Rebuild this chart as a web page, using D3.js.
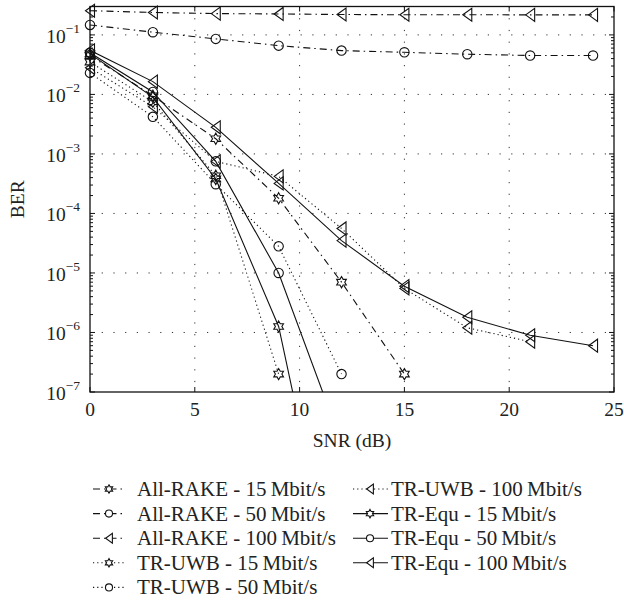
<!DOCTYPE html>
<html>
<head>
<meta charset="utf-8">
<script src="https://cdn.jsdelivr.net/npm/d3@7"></script>
<style>
  body { margin: 0; background: #fff; }
  svg { display: block; }
  text { font-family: "Liberation Serif", "Times New Roman", serif; fill: #222; }
</style>
</head>
<body>
<svg id="chart" width="624" height="611"></svg>
<script>
// SNR sample points (dB)
const snr = [0, 3, 6, 9, 12, 15, 18, 21, 24];

// Bit error rates per receiver / data rate
const rake15  = [0.045, 0.0095, 1.8e-3, 1.8e-4, 7e-6, 2e-7];
const rake50  = [0.147, 0.111, 0.0857, 0.066, 0.0545, 0.051, 0.0474, 0.045, 0.045];
const rake100 = [0.255, 0.238, 0.228, 0.225, 0.22, 0.218, 0.218, 0.217, 0.217];
const uwb15   = [0.035, 0.0075, 4.3e-4, 2e-7];
const uwb50   = [0.023, 0.0042, 3.1e-4, 2.8e-5, 2e-7];
const uwb100  = [0.028, 0.0062, 7.5e-4, 4.2e-4, 5.6e-5, 5.5e-6, 1.2e-6, 7e-7];
const equ15   = [0.048, 0.009, 3.8e-4, 1.26e-6, 1.5e-11];
const equ50   = [0.05, 0.011, 7.5e-4, 1e-5, 1.4e-8];
const equ100  = [0.055, 0.0164, 2.8e-3, 3.2e-4, 3.5e-5, 6e-6, 1.8e-6, 9e-7, 6e-7];

const seriesNames = [
  "All-RAKE - 15\u2009Mbit/s", "All-RAKE - 50\u2009Mbit/s", "All-RAKE - 100\u2009Mbit/s",
  "TR-UWB - 15\u2009Mbit/s", "TR-UWB - 50\u2009Mbit/s", "TR-UWB - 100\u2009Mbit/s",
  "TR-Equ - 15\u2009Mbit/s", "TR-Equ - 50\u2009Mbit/s", "TR-Equ - 100\u2009Mbit/s"
];
const seriesValues = [rake15, rake50, rake100, uwb15, uwb50, uwb100, equ15, equ50, equ100];
const seriesStyle = ["dashdot", "dashdot", "dashdot", "dot", "dot", "dot", "solid", "solid", "solid"];
const seriesMarker = ["hex", "circle", "tri", "hex", "circle", "tri", "hex", "circle", "tri"];

const xTicks = [0, 5, 10, 15, 20, 25];
const yExponents = [-7, -6, -5, -4, -3, -2, -1];

const svg = d3.select("#chart");
const pLeft = 90, pRight = 614, pTop = 6.5, pBottom = 392;

const x = d3.scaleLinear().domain([0, 25]).range([pLeft, pRight]);
const y = d3.scaleLog().domain([1e-7, 0.3]).range([pBottom, pTop]);

const dashes = { solid: null, dot: "1.2,3", dashdot: "7,4,1.5,4" };

// grid
const grid = svg.append("g").attr("stroke", "#333").attr("stroke-width", 1)
  .attr("stroke-dasharray", "1.2,10.5");
yExponents.filter(e => e > -7).forEach(e => {
  grid.append("line").attr("x1", pLeft).attr("x2", pRight)
    .attr("y1", y(Math.pow(10, e))).attr("y2", y(Math.pow(10, e)));
});
xTicks.filter(t => t > 0 && t < 25).forEach(t => {
  grid.append("line").attr("x1", x(t)).attr("x2", x(t)).attr("y1", pTop).attr("y2", pBottom);
});

// frame
svg.append("rect").attr("x", pLeft).attr("y", pTop)
  .attr("width", pRight - pLeft).attr("height", pBottom - pTop)
  .attr("fill", "none").attr("stroke", "#111").attr("stroke-width", 1.3);

// ticks (inward, both sides)
const tk = svg.append("g").attr("stroke", "#111").attr("stroke-width", 1);
xTicks.forEach(t => {
  tk.append("line").attr("x1", x(t)).attr("x2", x(t)).attr("y1", pBottom).attr("y2", pBottom - 5);
  tk.append("line").attr("x1", x(t)).attr("x2", x(t)).attr("y1", pTop).attr("y2", pTop + 5);
});
yExponents.forEach(e => {
  const v = Math.pow(10, e);
  tk.append("line").attr("x1", pLeft).attr("x2", pLeft + 5).attr("y1", y(v)).attr("y2", y(v));
  tk.append("line").attr("x1", pRight).attr("x2", pRight - 5).attr("y1", y(v)).attr("y2", y(v));
  for (let m = 2; m <= 9; m++) {
    const mv = m * v;
    if (mv > 0.3) break;
    tk.append("line").attr("x1", pLeft).attr("x2", pLeft + 3).attr("y1", y(mv)).attr("y2", y(mv));
    tk.append("line").attr("x1", pRight).attr("x2", pRight - 3).attr("y1", y(mv)).attr("y2", y(mv));
  }
});

// x tick labels
svg.append("g").selectAll("text").data(xTicks).join("text")
  .attr("x", d => x(d)).attr("y", 416).attr("text-anchor", "middle")
  .attr("font-size", 19.5).text(d => d);

// y tick labels 10^k
yExponents.forEach(e => {
  const t = svg.append("text").attr("x", 80).attr("y", y(Math.pow(10, e)) + 8)
    .attr("text-anchor", "end");
  t.append("tspan").attr("font-size", 19.5).text("10");
  t.append("tspan").attr("font-size", 13.5).attr("dy", -10).text("\u2212" + Math.abs(e));
});

// axis titles
svg.append("text").attr("x", (pLeft + pRight) / 2).attr("y", 447)
  .attr("text-anchor", "middle").attr("font-size", 19.5).text("SNR (dB)");
svg.append("text").attr("transform", `translate(24,${(pTop + pBottom) / 2}) rotate(-90)`)
  .attr("text-anchor", "middle").attr("font-size", 19.5).text("BER");

// marker shapes
function hexPath(r) {
  const pts = [];
  for (let i = 0; i < 12; i++) {
    const a = -Math.PI / 2 + i * Math.PI / 6;
    const rr = i % 2 === 0 ? r : r / Math.sqrt(3);
    pts.push([rr * Math.cos(a), rr * Math.sin(a)]);
  }
  return "M" + pts.map(p => p[0].toFixed(2) + "," + p[1].toFixed(2)).join("L") + "Z";
}
function drawMarker(g, kind, cx, cy, s) {
  if (kind === "circle") {
    g.append("circle").attr("cx", cx).attr("cy", cy).attr("r", 4.7 * s);
  } else if (kind === "tri") {
    g.append("path").attr("d",
      `M${cx - 4.5 * s},${cy}L${cx + 4.5 * s},${cy - 6.5 * s}L${cx + 4.5 * s},${cy + 6.5 * s}Z`);
  } else {
    g.append("path").attr("transform", `translate(${cx},${cy})`).attr("d", hexPath(5.6 * s));
  }
}

// plot curves
svg.append("clipPath").attr("id", "plotArea").append("rect")
  .attr("x", pLeft).attr("y", pTop).attr("width", pRight - pLeft).attr("height", pBottom - pTop);

const line = d3.line().x(d => x(d[0])).y(d => y(d[1]));
const plot = svg.append("g");
seriesValues.forEach((vals, i) => {
  const pts = vals.map((v, j) => [snr[j], v]);
  plot.append("path").datum(pts).attr("d", line)
    .attr("clip-path", "url(#plotArea)")
    .attr("fill", "none").attr("stroke", "#111").attr("stroke-width", 1.1)
    .attr("stroke-dasharray", dashes[seriesStyle[i]]);
  const mg = plot.append("g").attr("fill", "none").attr("stroke", "#111").attr("stroke-width", 1.1);
  pts.filter(p => p[1] >= 1e-7).forEach(p => drawMarker(mg, seriesMarker[i], x(p[0]), y(p[1]), 1));
});

// legend
const legend = svg.append("g");
const colX = [{ x1: 93, x2: 125, m: 109, t: 137 }, { x1: 353, x2: 388, m: 370, t: 391 }];
seriesNames.forEach((name, i) => {
  const col = i < 5 ? 0 : 1;
  const row = i < 5 ? i : i - 5;
  const base = 496 + row * 24.6;
  const c = colX[col];
  const ly = base - 7;
  legend.append("line").attr("x1", c.x1).attr("x2", c.x2).attr("y1", ly).attr("y2", ly)
    .attr("stroke", "#111").attr("stroke-width", 1.1)
    .attr("stroke-dasharray", dashes[seriesStyle[i]]);
  const mg = legend.append("g").attr("fill", "#fff").attr("stroke", "#111").attr("stroke-width", 1.1);
  drawMarker(mg, seriesMarker[i], c.m, ly, 0.75);
  legend.append("text").attr("x", c.t).attr("y", base).attr("font-size", 21).text(name);
});
</script>
</body>
</html>
